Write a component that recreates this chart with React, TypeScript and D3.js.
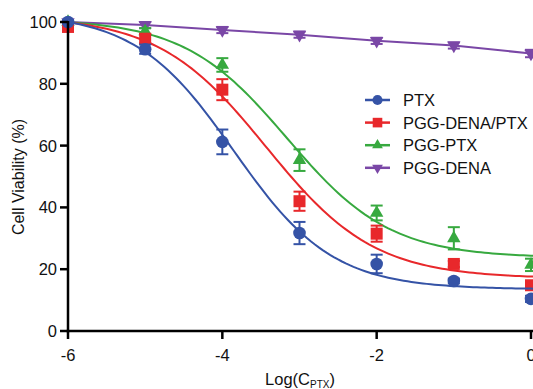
import * as d3 from "d3";

const LOG_C = [-6, -5, -4, -3, -2, -1, 0];
const SERIES = ["PTX", "PGG-DENA/PTX", "PGG-PTX", "PGG-DENA"] as const;
const COLORS = ["#3553A6", "#E8282B", "#37A93F", "#7A47A6"];
const SHAPES = ["circle", "square", "triangle", "triangleDown"] as const;

// mean cell viability (%) per concentration
const PTX_MEAN = [100, 91.2, 61.2, 31.7, 21.7, 16.2, 10.4];
const PGG_DENA_PTX_MEAN = [98.4, 94.6, 78.1, 42, 31.5, 21.7, 14.8];
const PGG_PTX_MEAN = [100, 97, 86.1, 55.3, 38.2, 30, 21.4];
const PGG_DENA_MEAN = [100, 99, 97.4, 95.9, 93.9, 92.4, 89.8];

// error (SD)
const PTX_ERR = [0.6, 1.5, 4.0, 3.6, 3.0, 0.8, 1.0];
const PGG_DENA_PTX_ERR = [0.8, 1.5, 3.4, 3.1, 2.6, 1.0, 1.2];
const PGG_PTX_ERR = [0.5, 1.0, 2.2, 3.5, 2.4, 3.6, 2.0];
const PGG_DENA_ERR = [0.5, 1.0, 1.0, 1.0, 1.0, 1.0, 1.2];

// fitted dose-response curves: [top, bottom, logIC50, hill] (null = connect points)
const FITS: ([number, number, number, number] | null)[] = [
  [103, 13.5, -3.85, 0.68],
  [102, 17, -3.43, 0.62],
  [101, 23.7, -3.16, 0.65],
  null,
];

const Y_TICKS = [0, 20, 40, 60, 80, 100];
const X_TICKS = [-6, -4, -2, 0];

const MEANS = [PTX_MEAN, PGG_DENA_PTX_MEAN, PGG_PTX_MEAN, PGG_DENA_MEAN];
const ERRS = [PTX_ERR, PGG_DENA_PTX_ERR, PGG_PTX_ERR, PGG_DENA_ERR];

const W = 533;
const H = 389;
const FONT = "'Liberation Sans', Arial, sans-serif";

const x = d3.scaleLinear().domain([-6, 0]).range([68, 531]);
const y = d3.scaleLinear().domain([0, 100]).range([331, 22]);

const fourPL = (p: [number, number, number, number]) => (v: number) =>
  p[1] + (p[0] - p[1]) / (1 + Math.pow(10, (v - p[2]) * p[3]));

const Marker = ({
  shape,
  cx,
  cy,
  color,
  s = 1,
}: {
  shape: (typeof SHAPES)[number];
  cx: number;
  cy: number;
  color: string;
  s?: number;
}) => {
  if (shape === "circle") return <circle cx={cx} cy={cy} r={6.3 * s} fill={color} />;
  if (shape === "square")
    return <rect x={cx - 6 * s} y={cy - 6 * s} width={12 * s} height={12 * s} fill={color} />;
  const tri = d3.symbol(d3.symbolTriangle, 78 * s * s)()!;
  return (
    <path
      d={tri}
      transform={`translate(${cx},${cy})${shape === "triangleDown" ? " rotate(180)" : ""}`}
      fill={color}
    />
  );
};

const Series = ({ i }: { i: number }) => {
  const color = COLORS[i];
  const fit = FITS[i];
  let d: string;
  if (fit) {
    const f = fourPL(fit);
    const xs = d3.range(-6, 0.21, 0.05);
    d = d3.line<number>().x((v) => x(v)).y((v) => y(f(v)))(xs)!;
  } else {
    d = d3.line<number>().x((v) => x(v)).y((_, k) => y(MEANS[i][k]))(LOG_C)!;
  }
  return (
    <g>
      <path d={d} fill="none" stroke={color} strokeWidth={2} />
      {LOG_C.map((lc, k) => {
        const cx = x(lc);
        const m = MEANS[i][k];
        const e = ERRS[i][k];
        const y0 = y(m + e);
        const y1 = y(m - e);
        return (
          <g key={k}>
            <line x1={cx} x2={cx} y1={y0} y2={y1} stroke={color} strokeWidth={2} />
            <line x1={cx - 6} x2={cx + 6} y1={y0} y2={y0} stroke={color} strokeWidth={2} />
            <line x1={cx - 6} x2={cx + 6} y1={y1} y2={y1} stroke={color} strokeWidth={2} />
            <Marker shape={SHAPES[i]} cx={cx} cy={y(m)} color={color} />
          </g>
        );
      })}
    </g>
  );
};

export default function App() {
  return (
    <svg
      width={W}
      height={H}
      style={{ position: "absolute", left: 0, top: 0, background: "#fff" }}
      fontFamily={FONT}
    >
      {/* series, blue drawn last so it sits on top */}
      {[3, 2, 1, 0].map((i) => (
        <Series key={i} i={i} />
      ))}

      {/* axes */}
      <line x1={x(-6)} x2={x(-6)} y1={y(0) + 1.25} y2={y(100) - 1} stroke="#000" strokeWidth={2.5} />
      <line x1={x(-6) - 1.25} x2={W} y1={y(0)} y2={y(0)} stroke="#000" strokeWidth={2.5} />
      {Y_TICKS.map((t) => (
        <g key={t}>
          <line x1={x(-6) - 8} x2={x(-6)} y1={y(t)} y2={y(t)} stroke="#000" strokeWidth={2.5} />
          <text x={57} y={y(t)} dy="0.36em" textAnchor="end" fontSize={16.5} fill="#111">
            {t}
          </text>
        </g>
      ))}
      {X_TICKS.map((t) => (
        <g key={t}>
          <line x1={x(t)} x2={x(t)} y1={y(0)} y2={y(0) + 8} stroke="#000" strokeWidth={2.5} />
          <text x={x(t)} y={361} textAnchor="middle" fontSize={16.5} fill="#111">
            {t}
          </text>
        </g>
      ))}

      {/* axis titles */}
      <text x={300} y={385} textAnchor="middle" fontSize={16.5} fill="#111">
        Log(C
        <tspan fontSize={10} dy={3}>
          PTX
        </tspan>
        <tspan dy={-3}>)</tspan>
      </text>
      <text
        transform={`translate(24,177) rotate(-90)`}
        textAnchor="middle"
        fontSize={16}
        fill="#111"
      >
        Cell Viability (%)
      </text>

      {/* legend */}
      {SERIES.map((name, i) => {
        const ly = 100 + i * 22.6;
        return (
          <g key={name}>
            <line x1={365} x2={390} y1={ly} y2={ly} stroke={COLORS[i]} strokeWidth={2.5} />
            <Marker shape={SHAPES[i]} cx={377.5} cy={ly} color={COLORS[i]} s={0.8} />
            <text x={403} y={ly} dy="0.36em" fontSize={16.5} fill="#111">
              {name}
            </text>
          </g>
        );
      })}
    </svg>
  );
}
